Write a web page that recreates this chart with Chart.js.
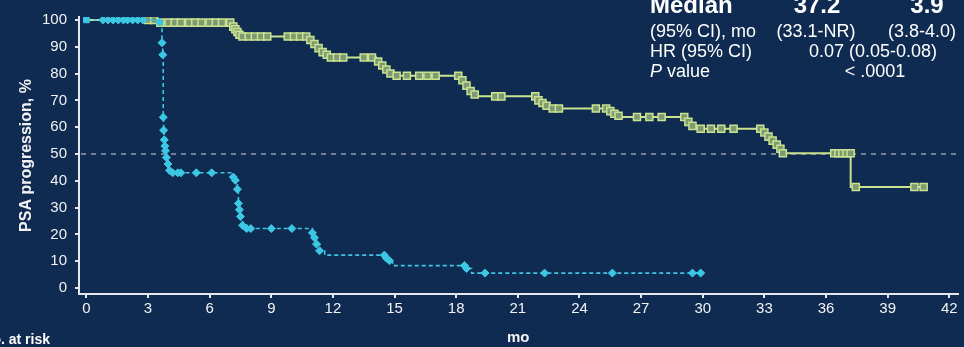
<!DOCTYPE html>
<html>
<head>
<meta charset="utf-8">
<script src="https://cdn.jsdelivr.net/npm/chart.js@4.4.1/dist/chart.umd.min.js"></script>
<style>
  html, body { margin: 0; padding: 0; background: #0f2b52; }
  #wrap { width: 964px; height: 347px; }
</style>
</head>
<body>
<div id="wrap"><canvas id="km" width="964" height="347"></canvas></div>
<script>
/* PSA progression KM plot */

const xTicks = [0, 3, 6, 9, 12, 15, 18, 21, 24, 27, 30, 33, 36, 39, 42];
const yTicks = [0, 10, 20, 30, 40, 50, 60, 70, 80, 90, 100];
const refLine = 50;

// treatment arm (green) – step curve
const armATime = [0, 3.6, 7.1, 7.2, 7.3, 7.4, 7.55, 10.8, 11.0, 11.2, 11.4, 11.6, 11.8,
  14.1, 14.3, 14.5, 14.7, 14.9, 18.2, 18.4, 18.6, 18.8, 19.0, 21.9, 22.1, 22.3, 22.5,
  25.4, 25.6, 25.8, 26.0, 29.2, 29.4, 29.7, 32.9, 33.1, 33.3, 33.5, 33.7, 33.85, 37.2, 40.8];
const armASurv = [100, 99, 97.5, 96.5, 95.5, 94.5, 93.8, 92.5, 91, 89.5, 88, 87, 86,
  84.5, 83, 81.5, 80, 79.2, 77.5, 75.5, 73.5, 72.2, 71.5, 70, 69, 68, 67,
  66, 65, 64.3, 63.8, 62, 60.5, 59.4, 58, 56.5, 55, 53.5, 52, 50.3, 37.7, 37.7];

// treatment arm censor marks
const cenATime = [
  3.0, 3.3, 3.6, 4.0, 4.3, 4.6, 5.0, 5.3, 5.6, 6.0,
  6.3, 6.6, 7.0, 7.15, 7.25, 7.35, 7.45, 7.6, 7.9, 8.2,
  8.5, 8.8, 9.8, 10.1, 10.4, 10.7, 10.9, 11.1, 11.3, 11.5,
  11.7, 11.9, 12.2, 12.5, 13.5, 13.9, 14.2, 14.4, 14.6, 14.8,
  15.1, 15.6, 16.2, 16.6, 17.0, 18.1, 18.3, 18.5, 18.7, 18.9,
  19.9, 20.2, 21.85, 22.0, 22.2, 22.4, 22.7, 23.0, 24.8, 25.3,
  25.5, 25.7, 25.9, 26.8, 27.4, 28.0, 29.1, 29.3, 29.5, 29.9,
  30.4, 30.9, 31.5, 32.8, 33.0, 33.2, 33.4, 33.6, 33.78, 33.9,
  36.4, 36.6, 36.8, 37.0, 37.2, 37.45, 40.3, 40.75];
const cenASurv = [
  100, 100, 99, 99, 99, 99, 99, 99, 99, 99,
  99, 99, 99, 97.5, 96.5, 95.5, 94.5, 93.8, 93.8, 93.8,
  93.8, 93.8, 93.8, 93.8, 93.8, 93.8, 92.5, 91, 89.5, 88,
  87, 86, 86, 86, 86, 86, 84.5, 83, 81.5, 80,
  79.2, 79.2, 79.2, 79.2, 79.2, 79.2, 77.5, 75.5, 73.5, 72.2,
  71.5, 71.5, 71.5, 70, 69, 68, 67, 67, 67, 67,
  66, 65, 64.3, 63.8, 63.8, 63.8, 63.8, 62, 60.5, 59.4,
  59.4, 59.4, 59.4, 59.4, 58, 56.5, 55, 53.5, 52, 50.3,
  50.3, 50.3, 50.3, 50.3, 50.3, 37.7, 37.7, 37.7];

// control arm (blue) – step curve
const armBTime = [0, 3.55, 3.68, 3.72, 3.74, 3.76, 3.79, 3.82, 3.85, 3.89,
  3.97, 4.05, 4.2, 7.15, 7.25, 7.35, 7.4, 7.45, 7.5, 7.6, 7.8,
  11.0, 11.1, 11.2, 11.35, 11.6, 14.55, 14.7, 14.9, 15.0, 18.5, 18.75, 29.9];
const armBSurv = [100, 99.2, 91.5, 87, 63.7, 58.9, 55.3, 53, 51.2, 48.7,
  46.3, 43.9, 43, 41.4, 40.2, 36.9, 31.6, 29.2, 26.7, 23.4, 22.2,
  20.6, 18.8, 16.4, 13.9, 12.3, 11.2, 10.2, 9.4, 8.4, 7.3, 5.6, 5.6];

// control arm markers
const cenBTime = [0, 0.8, 1.05, 1.3, 1.55, 1.8, 2.0, 2.25, 2.5, 2.75,
  3.55, 3.68, 3.72, 3.74, 3.76, 3.79, 3.82, 3.85, 3.89, 3.97, 4.05, 4.2, 4.45, 4.6,
  5.35, 6.1, 7.15, 7.25, 7.35, 7.4, 7.45, 7.5, 7.6, 7.8, 8.0, 9.0, 10.0,
  11.0, 11.1, 11.2, 11.35, 14.5, 14.6, 14.75, 18.4, 18.5, 19.4, 22.3, 25.6, 29.5, 29.9];
const cenBSurv = [100, 100, 100, 100, 100, 100, 100, 100, 100, 100,
  99.2, 91.5, 87, 63.7, 58.9, 55.3, 53, 51.2, 48.7, 46.3, 43.9, 43, 43, 43,
  43, 43, 41.4, 40.2, 36.9, 31.6, 29.2, 26.7, 23.4, 22.2, 22.2, 22.2, 22.2,
  20.6, 18.8, 16.4, 13.9, 12.3, 11.2, 10.2, 8.4, 7.3, 5.6, 5.6, 5.6, 5.6, 5.6];

const BG     = '#0f2b52';
const GREEN  = '#cae38f';
const BLUE   = '#3cc8e4';
const AXIS   = '#e4e8ee';
const FONT   = "'Liberation Sans', Arial, sans-serif";

const pts = (xs, ys) => xs.map((x, i) => ({ x, y: ys[i] }));

const bgPlugin = {
  id: 'bg',
  beforeDraw(chart) {
    const c = chart.ctx;
    c.save();
    c.fillStyle = BG;
    c.fillRect(0, 0, chart.width, chart.height);
    c.restore();
  },
  beforeDatasetsDraw(chart) {
    const c = chart.ctx, a = chart.chartArea;
    const y = chart.scales.y.getPixelForValue(refLine);
    c.save();
    c.strokeStyle = '#8f9cae';
    c.lineWidth = 1.5;
    c.setLineDash([5, 5]);
    c.beginPath();
    c.moveTo(a.left + 2, y);
    c.lineTo(a.right, y);
    c.stroke();
    c.restore();
  },
  afterDraw(chart) {
    const c = chart.ctx;
    c.save();
    c.fillStyle = '#ffffff';
    c.textBaseline = 'middle';

    c.font = `bold 24px ${FONT}`;
    c.textAlign = 'left';
    c.fillText('Median', 650, 6);
    c.textAlign = 'center';
    c.fillText('37.2', 817, 6);
    c.fillText('3.9', 927, 6);

    c.font = `18px ${FONT}`;
    c.textAlign = 'left';
    c.fillText('(95% CI), mo', 650, 32);
    c.fillText('HR (95% CI)', 650, 52);
    c.textAlign = 'center';
    c.fillText('(33.1-NR)', 816, 32);
    c.fillText('(3.8-4.0)', 922, 32);
    c.fillText('0.07 (0.05-0.08)', 873, 52);
    c.fillText('< .0001', 875, 72);

    c.textAlign = 'left';
    c.font = `italic 18px ${FONT}`;
    c.fillText('P', 650, 72);
    const pw = c.measureText('P ').width;
    c.font = `18px ${FONT}`;
    c.fillText('value', 650 + pw, 72);

    c.font = `bold 14px ${FONT}`;
    c.textAlign = 'right';
    c.fillText('No. at risk', 50, 340);
    c.restore();
  }
};

new Chart(document.getElementById('km'), {
  type: 'scatter',
  data: {
    datasets: [
      {
        data: pts(cenBTime, cenBSurv),
        showLine: false,
        pointStyle: ctx => ctx.dataIndex === 0 ? 'rect' : 'rectRot',
        pointRadius: 4,
        pointBackgroundColor: BLUE,
        pointBorderColor: BLUE,
        pointBorderWidth: 1,
        order: 1,
      },
      {
        data: pts(armBTime, armBSurv),
        showLine: true,
        stepped: true,
        borderColor: BLUE,
        borderWidth: 1.6,
        borderDash: [4, 3],
        pointRadius: 0,
        order: 2,
      },
      {
        data: pts(cenATime, cenASurv),
        showLine: false,
        pointStyle: 'rect',
        pointRadius: 5,
        pointBackgroundColor: '#7d9a72',
        pointBorderColor: GREEN,
        pointBorderWidth: 1.5,
        order: 3,
      },
      {
        data: pts(armATime, armASurv),
        showLine: true,
        stepped: true,
        borderColor: GREEN,
        borderWidth: 2,
        pointRadius: 0,
        order: 4,
      },
    ],
  },
  options: {
    responsive: false,
    animation: false,
    layout: { padding: { top: 12, right: 4, left: 0, bottom: 0 } },
    plugins: { legend: { display: false }, tooltip: { enabled: false } },
    scales: {
      x: {
        type: 'linear',
        min: -0.36,
        max: 42.4,
        afterBuildTicks: s => { s.ticks = xTicks.map(v => ({ value: v })); },
        afterFit: s => { s.height = 53; },
        grid:   { drawOnChartArea: false, tickLength: 4, color: AXIS, lineWidth: 2 },
        border: { color: AXIS, width: 2 },
        ticks:  { color: '#f2f2f2', font: { family: FONT, size: 15 }, padding: 2,
                  maxRotation: 0, autoSkip: false },
        title:  { display: true, text: 'mo', color: '#f2f2f2',
                  font: { family: FONT, size: 15, weight: 'bold' }, padding: { top: 0, bottom: 0 } },
      },
      y: {
        min: -2.2,
        max: 101.1,
        afterBuildTicks: s => { s.ticks = yTicks.map(v => ({ value: v })); },
        afterFit: s => { s.width = 79; },
        grid:   { drawOnChartArea: false, tickLength: 4, color: AXIS, lineWidth: 2 },
        border: { color: AXIS, width: 2 },
        ticks:  { color: '#f2f2f2', font: { family: FONT, size: 15 }, padding: 8 },
        title:  { display: true, text: 'PSA progression, %', color: '#f2f2f2',
                  font: { family: FONT, size: 16, weight: 'bold' }, padding: { top: 17, bottom: 0 } },
      },
    },
  },
  plugins: [bgPlugin],
});
</script>
</body>
</html>
